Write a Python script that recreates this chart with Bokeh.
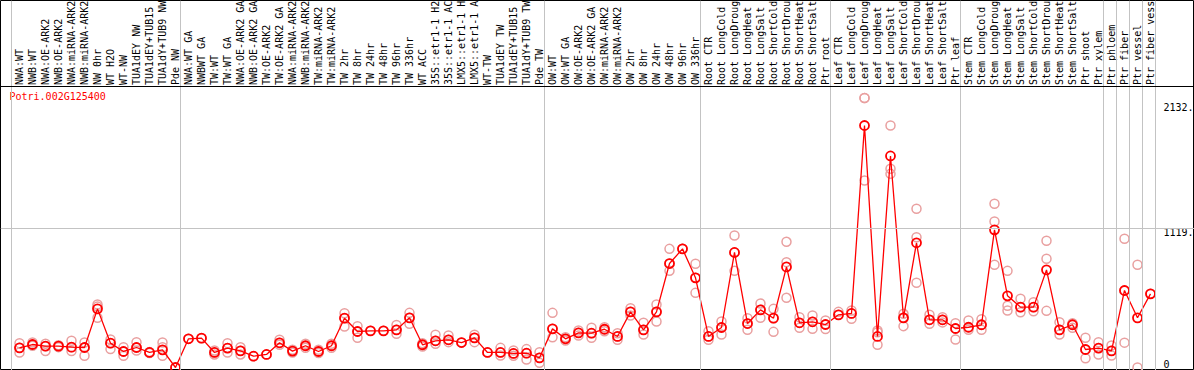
import math
from bokeh.plotting import figure
from bokeh.models import Range1d, Span, ColumnDataSource
from bokeh.core.properties import value
from bokeh.embed import file_html
from bokeh.resources import INLINE

gene = "Potri.002G125400"

samples = [
    "NWA:WT", "NWB:WT", "NWA:OE-ARK2", "NWB:OE-ARK2", "NWA:miRNA-ARK2", "NWB:miRNA-ARK2",
    "NW 0hr", "WT H2O", "WT-NW", "TUA1dEY NW", "TUA1dEY+TUB15 NW", "TUA1dY+TUB9 NW", "Pde NW",
    "NWA:WT GA", "NWBWT GA", "TW:WT", "TW:WT GA", "NWA:OE-ARK2 GA", "NWB:OE-ARK2 GA",
    "TW:OE-ARK2", "TW:OE-ARK2 GA", "NWA:miRNA-ARK2", "NWB:miRNA-ARK2", "TW:miRNA-ARK2",
    "TW:miRNA-ARK2", "TW 2hr", "TW 8hr", "TW 24hr", "TW 48hr", "TW 96hr", "TW 336hr",
    "WT ACC", "35S::etr1-1 H2O", "35S::etr1-1 ACC", "LMX5::etr1-1 H2O", "LMX5::etr1-1 ACC",
    "WT-TW", "TUA1dEY TW", "TUA1dEY+TUB15 TW", "TUA1dY+TUB9 TW", "Pde TW",
    "OW:WT", "OW:WT GA", "OW:OE-ARK2", "OW:OE-ARK2 GA", "OW:miRNA-ARK2", "OW:miRNA-ARK2",
    "OW 2hr", "OW 8hr", "OW 24hr", "OW 48hr", "OW 96hr", "OW 336hr",
    "Root CTR", "Root LongCold", "Root LongDrought", "Root LongHeat", "Root LongSalt",
    "Root ShortCold", "Root ShortDrought", "Root ShortHeat", "Root ShortSalt", "Ptr root",
    "Leaf CTR", "Leaf LongCold", "Leaf LongDrought", "Leaf LongHeat", "Leaf LongSalt",
    "Leaf ShortCold", "Leaf ShortDrought", "Leaf ShortHeat", "Leaf ShortSalt", "Ptr leaf",
    "Stem CTR", "Stem LongCold", "Stem LongDrought", "Stem LongHeat", "Stem LongSalt",
    "Stem ShortCold", "Stem ShortDrought", "Stem ShortHeat", "Stem ShortSalt", "Ptr shoot",
    "Ptr xylem", "Ptr phloem", "Ptr fiber", "Ptr vessel", "Ptr fiber vessel",
]

means = [
    158, 185, 172, 172, 164, 161, 472, 196, 129, 161, 121, 142, 0,
    231, 236, 121, 156, 134, 91, 105, 199, 132, 175, 129, 175, 397, 290, 295, 295, 303, 400,
    183, 215, 223, 201, 239, 121, 121, 113, 115, 78,
    311, 231, 279, 276, 308, 250, 448, 303, 448, 837, 955, 722,
    250, 322, 926, 354, 464, 397, 810, 360, 368, 346,
    424, 435, 1948, 250, 1703, 400, 1004, 384, 384, 314,
    324, 344, 1108, 577, 486, 486, 786, 303, 344, 145, 156,
    134, 620, 400, 593,
]

replicates = [
    [196, 158, 121], [201, 185, 175], [191, 172, 132], [180, 172, 164], [215, 164, 132],
    [201, 161, 94], [507, 491, 400], [225, 196, 148], [164, 129, 94], [204, 161, 137],
    [125, 121, 116], [201, 164, 94], [0],
    [231], [236], [137, 121, 105], [196, 156, 121], [164, 134, 105], [91], [105],
    [223, 199, 183], [143, 132, 121], [191, 175, 159], [143, 129, 116], [191, 175, 159],
    [437, 397, 330], [333, 290, 239], [295], [295], [343, 303, 271], [440, 400, 352],
    [196, 183, 169], [263, 215, 191], [258, 223, 204], [201], [263, 239, 204], [121],
    [158, 121, 97], [137, 113, 94], [148, 115, 64], [123, 78, 38],
    [440, 311, 244], [244, 231, 217], [298, 279, 258], [320, 276, 239], [324, 308, 292],
    [276, 250, 223], [477, 448, 419], [360, 303, 266], [507, 448, 370], [955, 837, 778],
    [955, 955], [835, 722, 601],
    [292, 250, 223], [370, 322, 266], [1063, 926, 778], [397, 354, 303], [515, 464, 400],
    [472, 397, 287], [1012, 848, 561], [405, 360, 320], [419, 368, 311], [378, 346, 309],
    [448, 424], [459, 435, 392], [2170, 2170, 1505], [298, 284, 183], [1948, 1600, 1559],
    [432, 400, 333], [1278, 1049, 682], [424, 384, 352], [405, 384, 363], [357, 314, 225],
    [378, 324, 303], [389, 344, 303], [1318, 1175, 827], [778, 497, 459], [553, 486, 445],
    [526, 486, 453], [1020, 875, 456], [365, 303, 265], [357, 344, 320], [239, 145, 75],
    [204, 156, 105], [177, 134, 97], [1036, 620, 200], [827, 0], [593],
]

group_ends = [0, 13, 41, 53, 63, 73, 84, 85, 86, 87, 88]
y_ticks = [2132, 1119, 0]
y_tick_labels = ["2132.", "1119.", "0"]

# ---- layout constants (pixels) ----
W, H = 1194, 370
PX_PER_CAT = 13.0
X0_PX = 6.0
PX_PER_UNIT = 0.12422
ZERO_PX = 367.0
LABEL_BAND_CHARS = 14  # characters that fit in the label band

def v_at(px_y):
    return (ZERO_PX - px_y) / PX_PER_UNIT

x_range = Range1d(-X0_PX / PX_PER_CAT, (W - X0_PX) / PX_PER_CAT)
y_range = Range1d(v_at(H), v_at(0))

p = figure(width=W, height=H, x_range=x_range, y_range=y_range,
           output_backend="svg", toolbar_location=None,
           min_border=0, min_border_left=0, min_border_right=0,
           min_border_top=0, min_border_bottom=0)
p.xaxis.visible = False
p.yaxis.visible = False
p.xgrid.grid_line_color = None
p.ygrid.grid_line_color = None
p.outline_line_color = "black"
p.outline_line_width = 1
p.background_fill_color = "white"
p.border_fill_color = "white"

mono = value("DejaVu Sans Mono")
grey = "#c3c3c3"

# group separators
for g in group_ends:
    p.add_layout(Span(location=g + 0.385, dimension="height", line_color=grey, line_width=1))
# reference line at middle tick
p.add_layout(Span(location=y_ticks[1], dimension="width", line_color=grey, line_width=1))
# divider under the label band
p.add_layout(Span(location=v_at(86), dimension="width", line_color="black", line_width=1))

xs = list(range(1, len(samples) + 1))

# sample labels (rotated), shortened to what fits in the band
shown = [s[:LABEL_BAND_CHARS] for s in samples]
p.text(x=xs, y=[v_at(84.5)] * len(xs), text=shown, angle=math.pi / 2,
       text_align="left", text_baseline="middle", text_font=mono,
       text_font_size="10px", text_color="black")

# gene name
p.text(x=[(9 - X0_PX) / PX_PER_CAT], y=[v_at(96)], text=[gene], text_align="left",
       text_baseline="middle", text_font=mono, text_font_size="10px", text_color="red")

# y tick labels
lx = (1163 - X0_PX) / PX_PER_CAT
p.text(x=[lx, lx], y=y_ticks[:2], text=y_tick_labels[:2], text_align="left",
       text_baseline="top", text_font=mono, text_font_size="10px", text_color="black")
p.text(x=[lx], y=y_ticks[2:], text=y_tick_labels[2:], text_align="left",
       text_baseline="bottom", text_font=mono, text_font_size="10px", text_color="black")

# replicates
rx, ry = [], []
for i, reps in enumerate(replicates):
    for r in reps:
        rx.append(xs[i])
        ry.append(r)
p.scatter(rx, ry, marker="circle", size=9, fill_color=None,
          line_color="#e9a0a0", line_width=1.5)

# mean profile
src = ColumnDataSource(dict(x=xs, y=means))
p.line("x", "y", source=src, line_color="red", line_width=1.3)
p.scatter("x", "y", source=src, marker="circle", size=9, fill_color=None,
          line_color="red", line_width=1.8)

html = file_html(p, INLINE)
html = html.replace("</head>", "<style>html,body{margin:0;padding:0;}</style></head>", 1)
open("out.html", "w").write(html)
